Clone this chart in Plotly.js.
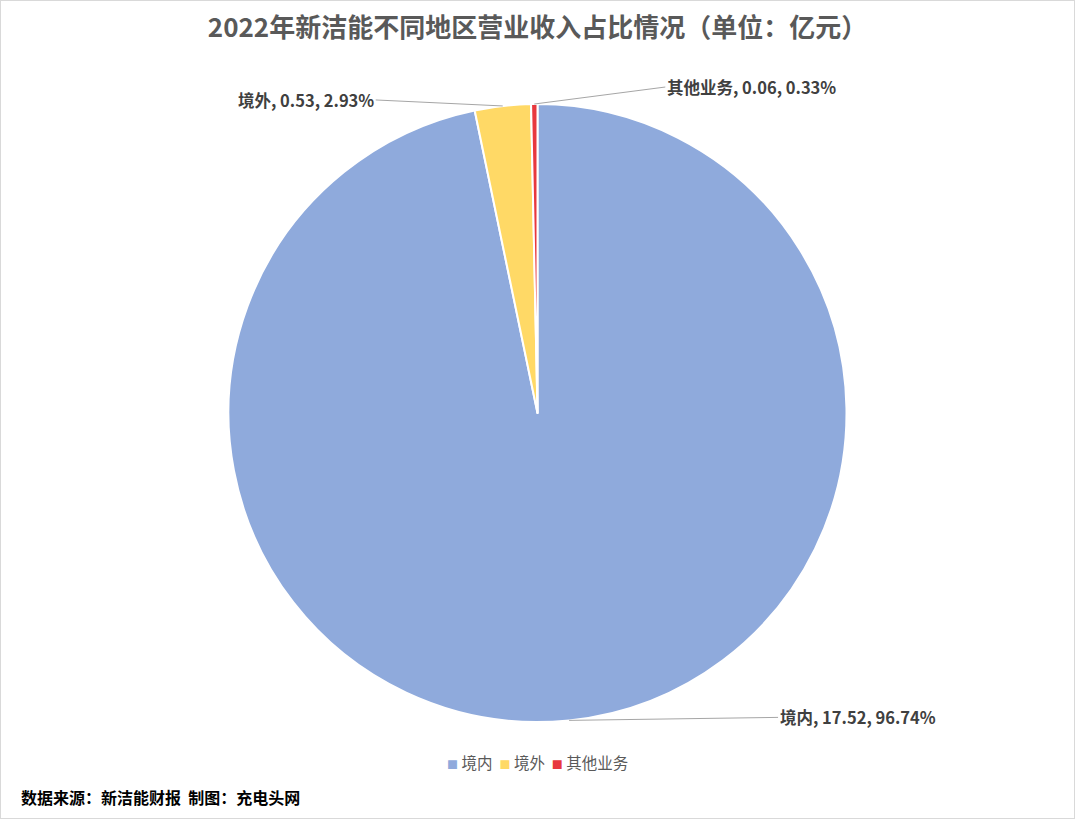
<!DOCTYPE html>
<html>
<head>
<meta charset="utf-8">
<script src="https://cdn.plot.ly/plotly-3.0.1.min.js"></script>
<style>
html,body{margin:0;padding:0;background:#fff;}
#wrap{position:relative;width:1075px;height:819px;}
#chart{width:1075px;height:819px;}
#frame{position:absolute;left:0;top:0;width:1073px;height:817px;border:1px solid #d9d9d9;pointer-events:none;}
</style>
</head>
<body>
<div id="wrap"><div id="chart"></div><div id="frame"></div></div>
<script>
const categories = ['境内', '境外', '其他业务'];
const values = [17.52, 0.53, 0.06];
const colors = ['#8faadc', '#ffd966', '#e8383d'];
const titleText = '2022年新洁能不同地区营业收入占比情况（单位：亿元）';
const sourceText = '数据来源：新洁能财报  制图：充电头网';

const W = 1075, H = 819;
const margin = {l: 0, r: 0, t: 104, b: 97};
const plotW = W - margin.l - margin.r, plotH = H - margin.t - margin.b;
const R = Math.min(plotW, plotH) / 2;

const total = values.reduce((a, b) => a + b, 0);
// label offsets (pixels) and anchors — style only
const labelStyle = [
  {ax: 209, ay: -3, xanchor: 'left'},
  {ax: -127, ay: -6, xanchor: 'right'},
  {ax: 131, ay: -17, xanchor: 'left'}
];

const annotations = [];
let cum = 0;
values.forEach((v, i) => {
  const mid = (cum + v / 2) / total * 2 * Math.PI;
  cum += v;
  const px = 0.5 + R * Math.sin(mid) / plotW;
  const py = 0.5 + R * Math.cos(mid) / plotH;
  const pct = (v / total * 100).toFixed(2) + '%';
  annotations.push({
    xref: 'paper', yref: 'paper', x: px, y: py,
    text: '<b>' + categories[i] + ', ' + v.toFixed(2) + ', ' + pct + '</b>',
    showarrow: true, arrowhead: 0, arrowwidth: 1, arrowcolor: '#a6a6a6',
    ax: labelStyle[i].ax, ay: labelStyle[i].ay, xanchor: labelStyle[i].xanchor, yanchor: 'middle',
    font: {family: 'Noto Sans CJK SC, sans-serif', size: 16.5, color: '#404040'},
    borderpad: 1
  });
});
annotations.push({
  xref: 'paper', yref: 'paper', x: 19 / W, y: -(797 - (H - margin.b)) / plotH,
  xanchor: 'left', yanchor: 'middle', showarrow: false,
  text: '<b>' + sourceText + '</b>',
  font: {family: 'Noto Sans CJK SC, sans-serif', size: 16, color: '#000'}
});
// compact legend built from categories and colours
const legendText = categories.map((c, i) =>
  '<span style="color:' + colors[i] + ';font-size:11px">■</span> ' + c).join('  ');
annotations.push({
  xref: 'paper', yref: 'paper', x: 0.5, y: -(762 - (H - margin.b)) / plotH,
  xanchor: 'center', yanchor: 'middle', showarrow: false,
  text: legendText,
  font: {family: 'Noto Sans CJK SC, sans-serif', size: 15.5, color: '#595959'}
});

const trace = {
  type: 'pie',
  labels: categories,
  values: values,
  sort: false,
  direction: 'clockwise',
  rotation: 0,
  textinfo: 'none',
  hoverinfo: 'label+value+percent',
  marker: {colors: colors, line: {color: '#ffffff', width: 2}},
  domain: {x: [0, 1], y: [0, 1]}
};

const layout = {
  width: W, height: H,
  margin: margin,
  paper_bgcolor: '#fff',
  title: {
    text: '<b>' + titleText + '</b>',
    x: 0.5, xanchor: 'center', y: 1 - 28 / H, yanchor: 'middle',
    font: {family: 'Noto Sans CJK SC, sans-serif', size: 26, color: '#595959'}
  },
  showlegend: false,
  annotations: annotations
};

Plotly.newPlot('chart', [trace], layout, {displayModeBar: false, staticPlot: true});
</script>
</body>
</html>
